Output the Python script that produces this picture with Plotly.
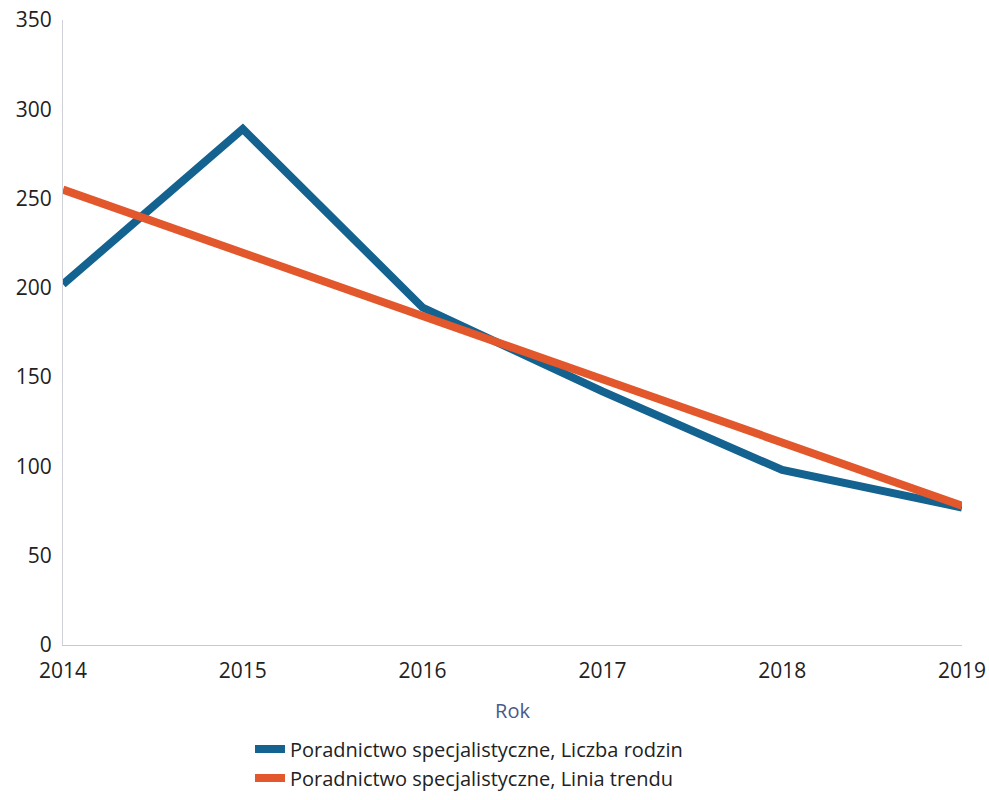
import plotly.graph_objects as go

years = [2014, 2015, 2016, 2017, 2018, 2019]
liczba_rodzin = [202, 289, 189, 142, 98, 77]
linia_trendu = [255, 219.5, 184, 148, 113, 78]
y_ticks = [0, 50, 100, 150, 200, 250, 300, 350]

fig = go.Figure()
fig.add_trace(go.Scatter(x=years, y=liczba_rodzin, mode="lines",
                         name="Poradnictwo specjalistyczne, Liczba rodzin",
                         line=dict(color="#13628f", width=8)))
fig.add_trace(go.Scatter(x=years, y=linia_trendu, mode="lines",
                         name="Poradnictwo specjalistyczne, Linia trendu",
                         line=dict(color="#e2572b", width=8)))

fig.update_layout(
    width=989, height=800,
    margin=dict(l=63, r=27, t=20, b=155, autoexpand=False),
    paper_bgcolor="white", plot_bgcolor="white",
    font=dict(family="Open Sans", size=21, color="#222222"),
    showlegend=True,
    legend=dict(orientation="v", x=0.208, y=-0.135, xanchor="left", yanchor="top",
                font=dict(size=20), itemwidth=30, tracegroupgap=0),
    xaxis=dict(range=[2014, 2019], tickvals=years, showgrid=False,
               showline=True, linecolor="#c8c8d0", linewidth=1, zeroline=False,
               ticks="outside", ticklen=7, tickcolor="rgba(255,255,255,0)",
               title=dict(text="Rok", font=dict(size=20, color="#4a5a8a"), standoff=20)),
    yaxis=dict(range=[0, 350], tickvals=y_ticks, showgrid=False,
               showline=True, linecolor="#d0d0d8", linewidth=1, zeroline=False,
               ticks="outside", ticklen=6, tickcolor="rgba(255,255,255,0)"),
)
fig.write_html("out.html", config={"displayModeBar": False},
               post_script="document.body.style.margin='0';document.body.style.overflow='hidden';")
